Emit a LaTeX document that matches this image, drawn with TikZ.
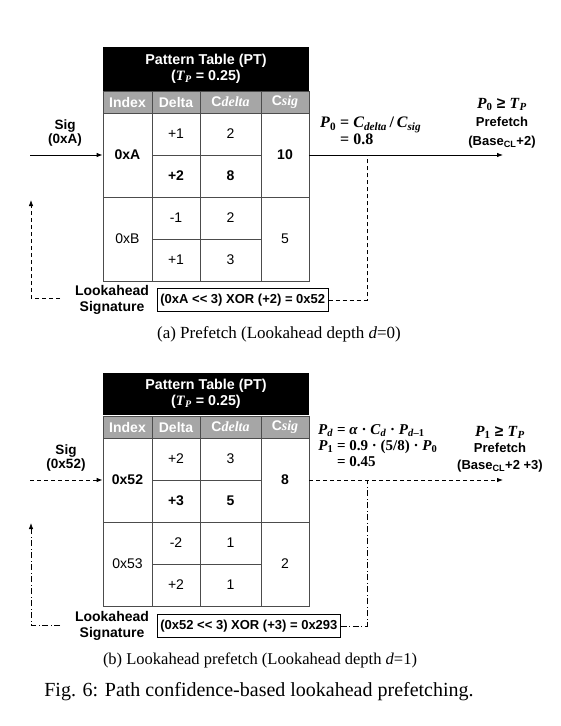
\documentclass[tikz,border=0pt]{standalone}
\usepackage{amsmath}
\usepackage{fontspec}
\setmainfont{Liberation Serif}
\setsansfont{Liberation Sans}
\usetikzlibrary{arrows.meta, positioning}

% bold italic variable with subscript
\newcommand{\pv}[2]{{\rmfamily\bfseries\textit{#1}\textsubscript{#2}}}
\newcommand{\bigpv}{\fontsize{15.5}{18}\selectfont}

\begin{document}
\begin{tikzpicture}[x=1pt, y=-1pt,
  cell/.style={draw=black!70, line width=0.8pt, inner sep=0pt, minimum height=42pt,
               font=\sffamily\fontsize{14}{16}\selectfont},
  twin/.style={minimum height=84pt},
  idx/.style={minimum width=49pt},
  dlt/.style={minimum width=48pt},
  cdl/.style={minimum width=61pt},
  csg/.style={minimum width=48pt},
  hd/.style={draw=black!70, line width=0.8pt, fill=black!35, text=white, inner sep=0pt,
             minimum height=22pt, font=\sffamily\bfseries\fontsize{14}{16}\selectfont},
  ptitle/.style={fill=black, text=white, minimum width=206pt, minimum height=44pt,
                 align=center, font=\sffamily\bfseries\fontsize{14.3}{16}\selectfont},
  lbl/.style={align=center, inner sep=1pt, font=\sffamily\bfseries\fontsize{13.5}{13.5}\selectfont},
  xorbox/.style={draw, line width=0.8pt, inner sep=3pt, minimum height=23pt,
                 font=\sffamily\bfseries\fontsize{13}{15}\selectfont},
  eqn/.style={inner sep=0pt, font=\rmfamily\bfseries\fontsize{16}{17.5}\selectfont},
  capt/.style={font=\fontsize{17}{19}\selectfont},
  arr/.style={-{Latex[length=6pt, width=4.5pt]}, line width=0.8pt},
  fb/.style={line width=0.8pt, dash pattern=on 4pt off 3pt},
  fbb/.style={line width=0.8pt, dash pattern=on 6pt off 2.5pt on 1pt off 2.5pt},
]
  \useasboundingbox (0,0) rectangle (561,726);

  % (a) depth 0
  \node[ptitle] (a-pt) at (206,69) {Pattern Table (PT)\\{}(\pv{T}{\textit{P}} = 0.25)};
  \node[hd, idx] (a-h1) at (127.5,102) {Index};
  \node[hd, dlt] (a-h2) at (176,102)   {Delta};
  \node[hd, cdl] (a-h3) at (230.5,102) {C{\rmfamily\itshape delta}};
  \node[hd, csg] (a-h4) at (285,102)   {C{\rmfamily\itshape sig}};
  \node[cell, idx, twin] (a-i1) at (127.5,155) {\bfseries 0xA};
  \node[cell, dlt] (a-d1) at (176,134)   {+1};
  \node[cell, cdl] (a-c1) at (230.5,134) {2};
  \node[cell, dlt] (a-d2) at (176,176)   {\bfseries +2};
  \node[cell, cdl] (a-c2) at (230.5,176) {\bfseries 8};
  \node[cell, csg, twin] (a-s1) at (285,155) {\bfseries 10};
  \node[cell, idx, twin] (a-i2) at (127.5,239) {0xB};
  \node[cell, dlt] (a-d3) at (176,218)   {-1};
  \node[cell, cdl] (a-c3) at (230.5,218) {2};
  \node[cell, dlt] (a-d4) at (176,260)   {+1};
  \node[cell, cdl] (a-c4) at (230.5,260) {3};
  \node[cell, csg, twin] (a-s2) at (285,239) {5};

  \node[lbl] (a-sig) at (65,133) {Sig\\{}(0xA)};
  \node[lbl, font=\sffamily\bfseries\fontsize{14}{16}\selectfont] (a-la) at (112,300) {Lookahead\\Signature};
  \node[xorbox, anchor=west] (a-xor) at (157,300) {(0xA {<}{<} 3) XOR (+2) = 0x52};
  \node[eqn, anchor=north west] (a-p0) at (320,115)
    {\begin{tabular}{@{}r@{ }l@{}} \pv{P}{0} & = \pv{C}{\textit{delta}}\,/\,\pv{C}{\textit{sig}}\\ & = 0.8\end{tabular}};
  \node[lbl, font=\sffamily\bfseries\fontsize{13}{18.5}\selectfont] (a-pf) at (502,123)
    {{\bigpv\pv{P}{0} ≥ \pv{T}{\textit{P}}}\\Prefetch\\{}(Base\textsubscript{CL}+2)};

  \coordinate (a-in)   at (30,155);
  \coordinate (a-out)  at (503,155);
  \coordinate (a-tap)  at (367,155);
  \coordinate (a-ret)  at (31,200);
  \coordinate (a-back) at (60,298);
  \draw[arr] (a-in) -- (a-i1.west);
  \draw[arr] (a-s1.east) -- (a-out);
  \draw[fb] (a-xor.east) -| (a-tap);
  \draw[fb, -{Latex[length=6pt, width=4.5pt]}] (a-back) -| (a-ret);

  \node[capt] (a-cap) at (279,334) {(a) Prefetch (Lookahead depth \textit{d}=0)};

  % (b) depth 1
  \node[ptitle, minimum height=42pt] (b-pt) at (206,394) {Pattern Table (PT)\\{}(\pv{T}{\textit{P}} = 0.25)};
  \node[hd, idx] (b-h1) at (127.5,427) {Index};
  \node[hd, dlt] (b-h2) at (176,427)   {Delta};
  \node[hd, cdl] (b-h3) at (230.5,427) {C{\rmfamily\itshape delta}};
  \node[hd, csg] (b-h4) at (285,427)   {C{\rmfamily\itshape sig}};
  \node[cell, idx, twin] (b-i1) at (127.5,480) {\bfseries 0x52};
  \node[cell, dlt] (b-d1) at (176,459)   {+2};
  \node[cell, cdl] (b-c1) at (230.5,459) {3};
  \node[cell, dlt] (b-d2) at (176,501)   {\bfseries +3};
  \node[cell, cdl] (b-c2) at (230.5,501) {\bfseries 5};
  \node[cell, csg, twin] (b-s1) at (285,480) {\bfseries 8};
  \node[cell, idx, twin] (b-i2) at (127.5,564) {0x53};
  \node[cell, dlt] (b-d3) at (176,543)   {-2};
  \node[cell, cdl] (b-c3) at (230.5,543) {1};
  \node[cell, dlt] (b-d4) at (176,585)   {+2};
  \node[cell, cdl] (b-c4) at (230.5,585) {1};
  \node[cell, csg, twin] (b-s2) at (285,564) {2};

  \node[lbl] (b-sig) at (66,458) {Sig\\{}(0x52)};
  \node[lbl, font=\sffamily\bfseries\fontsize{14}{16}\selectfont] (b-la) at (112,626) {Lookahead\\Signature};
  \node[xorbox, anchor=west] (b-xor) at (157,626) {(0x52 {<}{<} 3) XOR (+3) = 0x293};
  \node[eqn, anchor=north west, font=\rmfamily\bfseries\fontsize{15}{16}\selectfont] (b-pd) at (318,423)
    {\begin{tabular}{@{}r@{ }l@{}} \pv{P}{\textit{d}} & = \textit{α} · \pv{C}{\textit{d}} · \pv{P}{\textit{d}–1}\\
      \pv{P}{1} & = 0.9 · (5/8) · \pv{P}{0}\\ & = 0.45\end{tabular}};
  \node[lbl, font=\sffamily\bfseries\fontsize{13}{16.5}\selectfont] (b-pf) at (500,449)
    {{\bigpv\pv{P}{1} ≥ \pv{T}{\textit{P}}}\\Prefetch\\{}(Base\textsubscript{CL}+2 +3)};

  \coordinate (b-in)   at (30,480);
  \coordinate (b-out)  at (503,480);
  \coordinate (b-tap)  at (367,480);
  \coordinate (b-ret)  at (31,523);
  \coordinate (b-back) at (60,625);
  \draw[fb, -{Latex[length=6pt, width=4.5pt]}] (b-in) -- (b-i1.west);
  \draw[fb, -{Latex[length=6pt, width=4.5pt]}] (b-s1.east) -- (b-out);
  \draw[fbb] (b-xor.east) -| (b-tap);
  \draw[fbb, -{Latex[length=6pt, width=4.5pt]}] (b-back) -| (b-ret);

  \node[capt, font=\fontsize{16.5}{18}\selectfont] (b-cap) at (260,660) {(b) Lookahead prefetch (Lookahead depth \textit{d}=1)};
  \node[capt, font=\fontsize{20}{22}\selectfont] (fig) at (259,692) {Fig. 6: Path confidence-based lookahead prefetching.};
\end{tikzpicture}
\end{document}
